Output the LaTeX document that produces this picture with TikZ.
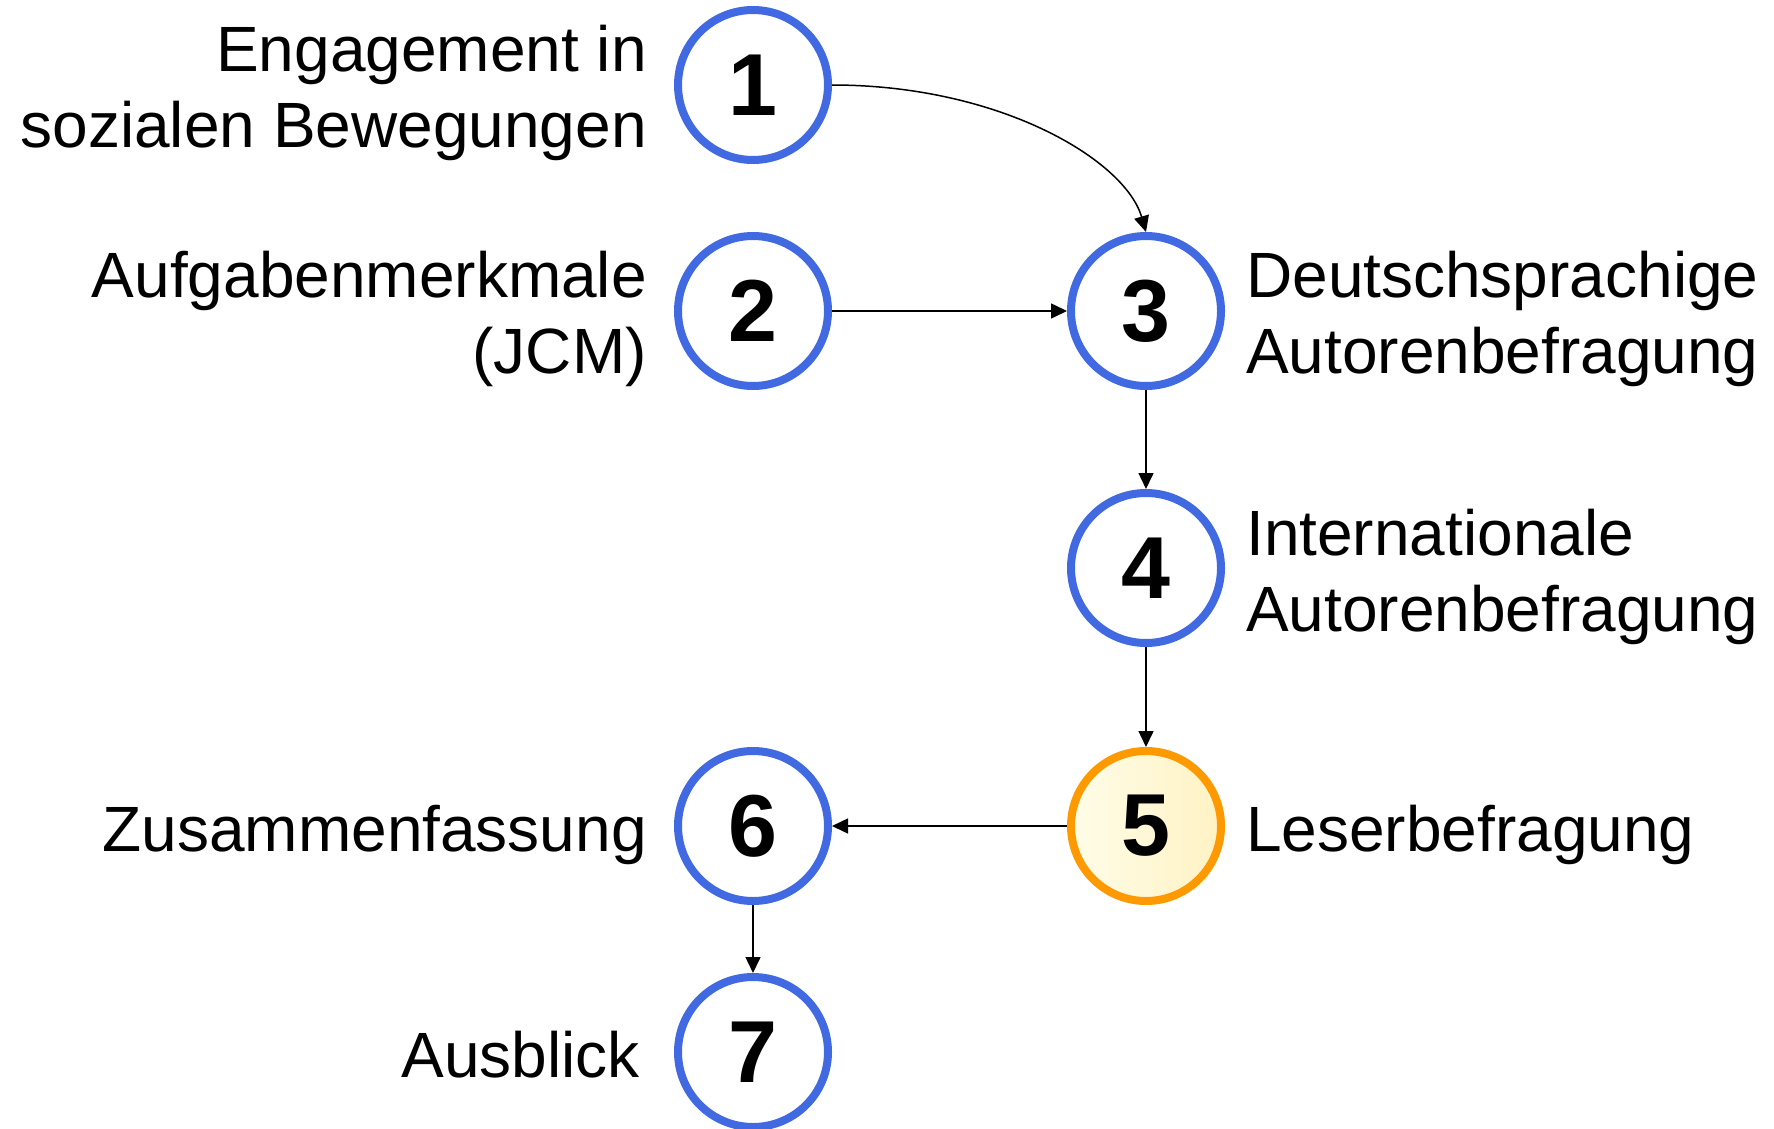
\documentclass[tikz,border=0pt]{standalone}
\usepackage{fontspec}
\setmainfont{Liberation Sans}
\usetikzlibrary{arrows.meta}
\definecolor{ringblue}{RGB}{65,105,225}
\definecolor{ringorange}{RGB}{255,153,0}
\definecolor{fillA}{RGB}{255,253,232}
\definecolor{fillB}{RGB}{255,242,196}
\begin{document}
\begin{tikzpicture}[x=1pt,y=-1pt,
  num/.style={circle, draw=ringblue, line width=8pt, minimum size=150pt, inner sep=0pt, fill=white, font=\fontsize{88}{90}\selectfont\bfseries},
  hl/.style={num, draw=ringorange, left color=fillA, right color=fillB},
  lbl/.style={inner sep=0pt, font=\fontsize{64}{76}\selectfont},
  arr/.style={-{Triangle[length=16pt,width=15pt]}, line width=1.5pt}]
\useasboundingbox (0,0) rectangle (1774,1129);
\node[num] (n1) at (753,85) {1};
\node[num] (n2) at (753,311) {2};
\node[num] (n3) at (1146,311) {3};
\node[num] (n4) at (1146,568) {4};
\node[hl] (n5) at (1146,826) {5};
\node[num] (n6) at (753,826) {6};
\node[num] (n7) at (753,1052) {7};
\node[lbl, align=right, anchor=north east] (l1) at (647,25) {Engagement in\\sozialen Bewegungen};
\node[lbl, align=right, anchor=north east] (l2) at (647,251) {Aufgabenmerkmale\\(JCM)};
\node[lbl, align=left, anchor=north west] (l3) at (1246,251) {Deutschsprachige\\Autorenbefragung};
\node[lbl, align=left, anchor=north west] (l4) at (1246,509) {Internationale\\Autorenbefragung};
\node[lbl, anchor=base west] (l5) at (1246,851) {Leserbefragung};
\node[lbl, anchor=base east] (l6) at (647,851) {Zusammenfassung};
\node[lbl, anchor=base east] (l7) at (640,1077) {Ausblick};
\draw[arr] (n1.east) .. controls +(168,0) and +(-21,-72) .. (n3.north);
\draw[arr] (n2) -- (n3);
\draw[arr] (n3) -- (n4);
\draw[arr] (n4) -- (n5);
\draw[arr] (n5) -- (n6);
\draw[arr] (n6) -- (n7);
\end{tikzpicture}
\end{document}
